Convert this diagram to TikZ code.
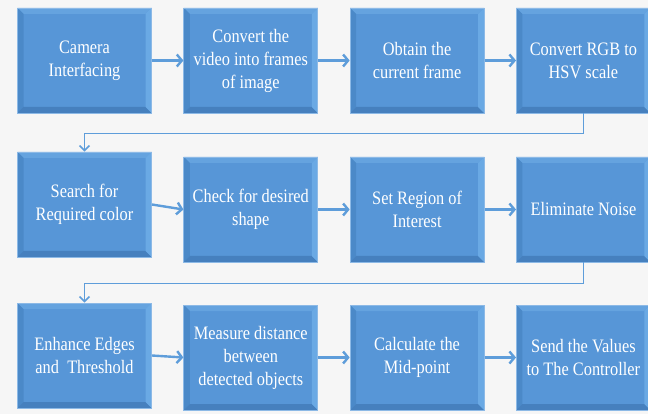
\documentclass[tikz,border=0pt]{standalone}
\usepackage{fontspec}
\setmainfont{Liberation Serif}[FakeStretch=0.86]
\usetikzlibrary{positioning}
\usetikzlibrary{arrows.meta}

\definecolor{paper}{HTML}{F6F6F6}
\definecolor{boxblue}{HTML}{5796D7}
\definecolor{boxedge}{HTML}{8CB9E6}
\definecolor{bevtop}{HTML}{65A3DF}
\definecolor{bevleft}{HTML}{4B89C8}
\definecolor{bevbottom}{HTML}{4680BE}
\definecolor{bevright}{HTML}{6AA9E4}
\definecolor{linkblue}{HTML}{5E9DDA}

\tikzset{
  block/.style={rectangle, fill=boxblue, draw=boxedge, line width=0.8pt,
    minimum width=134pt, minimum height=105pt, inner sep=2pt,
    text=white, align=center, font=\fontsize{19}{23}\selectfont,
    path picture={
      \fill[bevtop] (path picture bounding box.north west) -- (path picture bounding box.north east)
        -- ([xshift=-6pt,yshift=-6pt]path picture bounding box.north east)
        -- ([xshift=6pt,yshift=-6pt]path picture bounding box.north west) -- cycle;
      \fill[bevleft] (path picture bounding box.north west) -- (path picture bounding box.south west)
        -- ([xshift=6pt,yshift=6pt]path picture bounding box.south west)
        -- ([xshift=6pt,yshift=-6pt]path picture bounding box.north west) -- cycle;
      \fill[bevbottom] (path picture bounding box.south west) -- (path picture bounding box.south east)
        -- ([xshift=-6pt,yshift=6pt]path picture bounding box.south east)
        -- ([xshift=6pt,yshift=6pt]path picture bounding box.south west) -- cycle;
      \fill[bevright] (path picture bounding box.north east) -- (path picture bounding box.south east)
        -- ([xshift=-6pt,yshift=6pt]path picture bounding box.south east)
        -- ([xshift=-6pt,yshift=-6pt]path picture bounding box.north east) -- cycle;
    }},
  flow/.style={draw=linkblue, line width=2.4pt, -{Straight Barb[length=5pt,width=12pt]}},
  turn/.style={draw=linkblue, line width=1.5pt, -{Straight Barb[length=5pt,width=10pt]}}
}

\begin{document}
\begin{tikzpicture}[x=1pt, y=-1pt, node distance=31.5pt]
  \useasboundingbox (0,0) rectangle (648,414);
  \fill[paper] (0,0) rectangle (648,414);

  % first row
  \node[block] (cam) at (84.5,60.5) {Camera\\Interfacing};
  \node[block, right=of cam] (conv) {Convert the\\video into frames\\of image};
  \node[block, right=of conv] (frm) {Obtain the\\current frame};
  \node[block, right=of frm] (hsv) {Convert RGB to\\HSV scale};

  % second row
  \node[block] (srch) at (84.5,204.5) {Search for\\Required color};
  \node[block, right=of srch, yshift=-5pt] (shp) {Check for desired\\shape};
  \node[block, right=of shp] (roi) {Set Region of\\Interest};
  \node[block, right=of roi] (noise) {Eliminate Noise};

  % third row
  \node[block] (enh) at (84.5,355.5) {Enhance Edges\\and~~Threshold};
  \node[block, right=of enh, yshift=-2pt] (dist) {Measure distance\\between\\detected objects};
  \node[block, right=of dist] (mid) {Calculate the\\Mid-point};
  \node[block, right=of mid] (send) {Send the Values\\to The Controller};

  \draw[flow] (cam) -- (conv);
  \draw[flow] (conv) -- (frm);
  \draw[flow] (frm) -- (hsv);
  \draw[turn] (hsv.south) -- ++(0,20) -| (srch.north);
  \draw[flow] (srch.east) -- (shp.west);
  \draw[flow] (shp) -- (roi);
  \draw[flow] (roi) -- (noise);
  \draw[turn] (noise.south) -- ++(0,21) -| (enh.north);
  \draw[flow] (enh.east) -- (dist.west);
  \draw[flow] (dist) -- (mid);
  \draw[flow] (mid) -- (send);
\end{tikzpicture}
\end{document}
